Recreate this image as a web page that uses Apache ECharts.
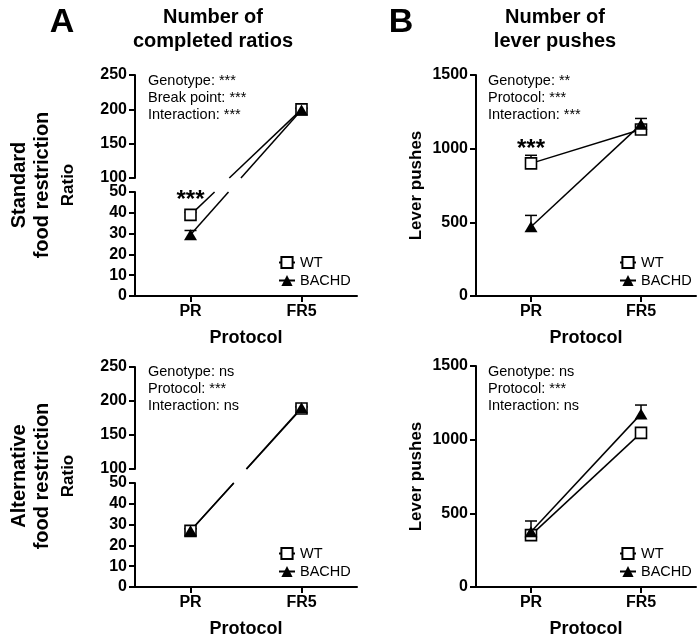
<!DOCTYPE html>
<html><head><meta charset="utf-8">
<script src="https://cdn.jsdelivr.net/npm/echarts@6/dist/echarts.min.js"></script>
<style>html,body{margin:0;padding:0;background:#fff}#c{width:700px;height:639px}</style>
</head><body><div id="c"></div>
<script>
// ---------------- data ----------------
const categories = ['PR', 'FR5'];
const seriesNames = ['WT', 'BACHD'];

// A – number of completed ratios (broken axis)
const ratioStdWT = [39, 200];
const ratioStdWTSem = [1.2, 2];
const ratioStdBACHD = [29.5, 199];
const ratioStdBACHDSem = [2, 2];
const ratioAltWT = [27, 189];
const ratioAltWTSem = [1, 2];
const ratioAltBACHD = [27, 190];
const ratioAltBACHDSem = [1, 2];

// B – number of lever pushes
const pushStdWT = [900, 1130];
const pushStdWTSem = [55, 25];
const pushStdBACHD = [470, 1165];
const pushStdBACHDSem = [77, 40];
const pushAltWT = [352, 1046];
const pushAltWTSem = [25, 25];
const pushAltBACHD = [375, 1175];
const pushAltBACHDSem = [73, 60];

// axis ranges: [min, max, interval]
const ratioUpperAxis = [100, 250, 50];
const ratioLowerAxis = [0, 50, 10];
const pushAxis = [0, 1500, 500];

// texts
const statsStdRatio = ['Genotype: ***', 'Break point: ***', 'Interaction: ***'];
const statsStdPush = ['Genotype: **', 'Protocol: ***', 'Interaction: ***'];
const statsAltRatio = ['Genotype: ns', 'Protocol: ***', 'Interaction: ns'];
const statsAltPush = ['Genotype: ns', 'Protocol: ***', 'Interaction: ns'];
const sigLabel = '***';

// ---------------- chart ----------------
const FONT = '"Liberation Sans", Arial, Helvetica, sans-serif';
const chart = echarts.init(document.getElementById('c'), null, {renderer: 'canvas'});

const grids = [
  {left: 135, top: 75, width: 222, height: 103},   // 0 A std upper
  {left: 135, top: 192, width: 222, height: 104},  // 1 A std lower
  {left: 476, top: 75, width: 220, height: 221},   // 2 B std
  {left: 135, top: 367, width: 222, height: 102},  // 3 A alt upper
  {left: 135, top: 483, width: 222, height: 104},  // 4 A alt lower
  {left: 476, top: 366, width: 220, height: 221}   // 5 B alt
];

function xAx(gi, show) {
  return {
    type: 'category', gridIndex: gi, data: categories, boundaryGap: true, show: show,
    axisLine: {onZero: false, lineStyle: {color: '#000', width: 2}},
    axisTick: {show: true, alignWithLabel: true, length: 6, lineStyle: {color: '#000', width: 2}},
    axisLabel: {color: '#000', fontWeight: 'bold', fontSize: 16, fontFamily: FONT, margin: 8},
    name: show ? 'Protocol' : '', nameLocation: 'middle', nameGap: 33,
    nameTextStyle: {color: '#000', fontWeight: 'bold', fontSize: 18, fontFamily: FONT}
  };
}
function yAx(gi, rng, name) {
  return {
    type: 'value', gridIndex: gi, min: rng[0], max: rng[1], interval: rng[2],
    splitLine: {show: false},
    axisLine: {show: true, lineStyle: {color: '#000', width: 2}},
    axisTick: {show: true, length: 6, lineStyle: {color: '#000', width: 2}},
    axisLabel: {color: '#000', fontWeight: 'bold', fontSize: 16, fontFamily: FONT, margin: 8,
      formatter: function (v) { return String(v); }},
    name: name || '', nameLocation: 'middle', nameGap: 51,
    nameTextStyle: {color: '#000', fontWeight: 'bold', fontSize: 17, fontFamily: FONT}
  };
}

const styleWT = {
  symbol: 'rect', symbolSize: 11,
  itemStyle: {color: '#fff', borderColor: '#000', borderWidth: 1.6},
  lineStyle: {color: '#000', width: 1.5}
};
const styleBACHD = {
  symbol: 'triangle', symbolSize: [13, 11],
  itemStyle: {color: '#000', borderColor: '#000', borderWidth: 0},
  lineStyle: {color: '#000', width: 1.5}
};
const sigLabelStyle = {show: true, formatter: sigLabel, position: 'top', distance: -4,
  fontSize: 24, fontWeight: 'bold', color: '#000', fontFamily: FONT};

// line series; "keep" = which indices to show (others null)
function lineSeries(name, gi, vals, style, keep, sigIdx) {
  const data = vals.map((v, i) => {
    if (keep.indexOf(i) < 0) return '-';
    if (i === sigIdx) return {value: v, label: sigLabelStyle};
    return v;
  });
  return Object.assign({
    type: 'line', name: name, xAxisIndex: gi, yAxisIndex: gi, data: data,
    showSymbol: true, showAllSymbol: true, silent: true, z: 5, animation: false
  }, JSON.parse(JSON.stringify(style)), {label: {show: false}});
}
function errSeries(gi, vals, sems, idxs) {
  return {
    type: 'custom', xAxisIndex: gi, yAxisIndex: gi, silent: true, z: 4, animation: false,
    data: idxs.map(i => [i, vals[i], vals[i] + sems[i]]),
    renderItem: function (params, api) {
      const p = api.coord([api.value(0), api.value(1)]);
      const q = api.coord([api.value(0), api.value(2)]);
      return {type: 'group', children: [
        {type: 'line', shape: {x1: p[0], y1: p[1], x2: q[0], y2: q[1]}, style: {stroke: '#000', lineWidth: 1.5}},
        {type: 'line', shape: {x1: q[0] - 6, y1: q[1], x2: q[0] + 6, y2: q[1]}, style: {stroke: '#000', lineWidth: 1.5}}
      ]};
    }
  };
}
// straight connector across the broken axis (lower grid PR -> upper grid FR5)
function connector(lowerGi, upperGi, vals, lowerRng, upperRng) {
  return {
    type: 'custom', xAxisIndex: lowerGi, yAxisIndex: lowerGi, silent: true, z: 3, animation: false,
    data: [[0, vals[0], 1, vals[1]]],
    renderItem: function (params, api) {
      const p0 = api.coord([api.value(0), api.value(1)]);
      const p1 = chart.convertToPixel({gridIndex: upperGi}, [api.value(2), api.value(3)]);
      const lowTop = api.coord([0, lowerRng[1]])[1];
      const upBot = chart.convertToPixel({gridIndex: upperGi}, [0, upperRng[0]])[1];
      if (!p1) return null;
      const xAt = y => p0[0] + (y - p0[1]) * (p1[0] - p0[0]) / (p1[1] - p0[1]);
      const st = {stroke: '#000', lineWidth: 1.5};
      return {type: 'group', children: [
        {type: 'line', shape: {x1: p0[0], y1: p0[1], x2: xAt(lowTop), y2: lowTop}, style: st},
        {type: 'line', shape: {x1: xAt(upBot), y1: upBot, x2: p1[0], y2: p1[1]}, style: st}
      ]};
    }
  };
}

function legendAt(left, top) {
  return {
    orient: 'vertical', left: left, top: top, padding: 0, itemGap: 3,
    itemWidth: 16, itemHeight: 14, selectedMode: false, data: seriesNames,
    textStyle: {fontSize: 14.5, fontFamily: FONT, color: '#000', lineHeight: 14}
  };
}

function textEl(x, y, text, font, align, rot) {
  return {type: 'text', x: x, y: y, rotation: rot || 0, silent: true,
    style: {text: text, font: font, fill: '#000', align: align || 'left', verticalAlign: 'middle', lineHeight: 23}};
}
function statEls(x, y, lines) {
  return lines.map((t, i) => textEl(x, y + i * 17, t, '14.5px ' + FONT));
}

const series = [
  // A standard
  connector(1, 0, ratioStdWT, ratioLowerAxis, ratioUpperAxis),
  connector(1, 0, ratioStdBACHD, ratioLowerAxis, ratioUpperAxis),
  errSeries(1, ratioStdWT, ratioStdWTSem, [0]),
  errSeries(1, ratioStdBACHD, ratioStdBACHDSem, [0]),
  errSeries(0, ratioStdWT, ratioStdWTSem, [1]),
  errSeries(0, ratioStdBACHD, ratioStdBACHDSem, [1]),
  lineSeries('WT', 1, ratioStdWT, styleWT, [0], 0),
  lineSeries('BACHD', 1, ratioStdBACHD, styleBACHD, [0]),
  lineSeries('WT', 0, ratioStdWT, styleWT, [1]),
  lineSeries('BACHD', 0, ratioStdBACHD, styleBACHD, [1]),
  // B standard
  errSeries(2, pushStdWT, pushStdWTSem, [0, 1]),
  errSeries(2, pushStdBACHD, pushStdBACHDSem, [0, 1]),
  lineSeries('WT', 2, pushStdWT, styleWT, [0, 1], 0),
  lineSeries('BACHD', 2, pushStdBACHD, styleBACHD, [0, 1]),
  // A alternative
  connector(4, 3, ratioAltWT, ratioLowerAxis, ratioUpperAxis),
  connector(4, 3, ratioAltBACHD, ratioLowerAxis, ratioUpperAxis),
  errSeries(4, ratioAltWT, ratioAltWTSem, [0]),
  errSeries(4, ratioAltBACHD, ratioAltBACHDSem, [0]),
  errSeries(3, ratioAltWT, ratioAltWTSem, [1]),
  errSeries(3, ratioAltBACHD, ratioAltBACHDSem, [1]),
  lineSeries('WT', 4, ratioAltWT, styleWT, [0]),
  lineSeries('BACHD', 4, ratioAltBACHD, styleBACHD, [0]),
  lineSeries('WT', 3, ratioAltWT, styleWT, [1]),
  lineSeries('BACHD', 3, ratioAltBACHD, styleBACHD, [1]),
  // B alternative
  errSeries(5, pushAltWT, pushAltWTSem, [0, 1]),
  errSeries(5, pushAltBACHD, pushAltBACHDSem, [0, 1]),
  lineSeries('WT', 5, pushAltWT, styleWT, [0, 1]),
  lineSeries('BACHD', 5, pushAltBACHD, styleBACHD, [0, 1])
];

const graphics = [].concat(
  [
    textEl(62, 23, 'A', 'bold 34px ' + FONT, 'center'),
    textEl(213, 17, 'Number of', 'bold 20px ' + FONT, 'center'),
    textEl(213, 41, 'completed ratios', 'bold 20px ' + FONT, 'center'),
    textEl(401, 23, 'B', 'bold 34px ' + FONT, 'center'),
    textEl(555, 17, 'Number of', 'bold 20px ' + FONT, 'center'),
    textEl(555, 41, 'lever pushes', 'bold 20px ' + FONT, 'center'),
    textEl(31, 185, 'Standard\nfood restriction', 'bold 20px ' + FONT, 'center', Math.PI / 2),
    textEl(31, 476, 'Alternative\nfood restriction', 'bold 20px ' + FONT, 'center', Math.PI / 2),
    textEl(68, 185, 'Ratio', 'bold 17px ' + FONT, 'center', Math.PI / 2),
    textEl(68, 476, 'Ratio', 'bold 17px ' + FONT, 'center', Math.PI / 2)
  ],
  statEls(148, 81, statsStdRatio),
  statEls(488, 81, statsStdPush),
  statEls(148, 372, statsAltRatio),
  statEls(488, 372, statsAltPush)
);

chart.setOption({
  animation: false,
  backgroundColor: '#fff',
  textStyle: {fontFamily: FONT},
  grid: grids,
  xAxis: [xAx(0, false), xAx(1, true), xAx(2, true), xAx(3, false), xAx(4, true), xAx(5, true)],
  yAxis: [yAx(0, ratioUpperAxis), yAx(1, ratioLowerAxis), yAx(2, pushAxis, 'Lever pushes'),
          yAx(3, ratioUpperAxis), yAx(4, ratioLowerAxis), yAx(5, pushAxis, 'Lever pushes')],
  legend: [legendAt(278, 255), legendAt(619, 255), legendAt(278, 546), legendAt(619, 546)],
  series: series,
  graphic: graphics
});
</script>
</body></html>
